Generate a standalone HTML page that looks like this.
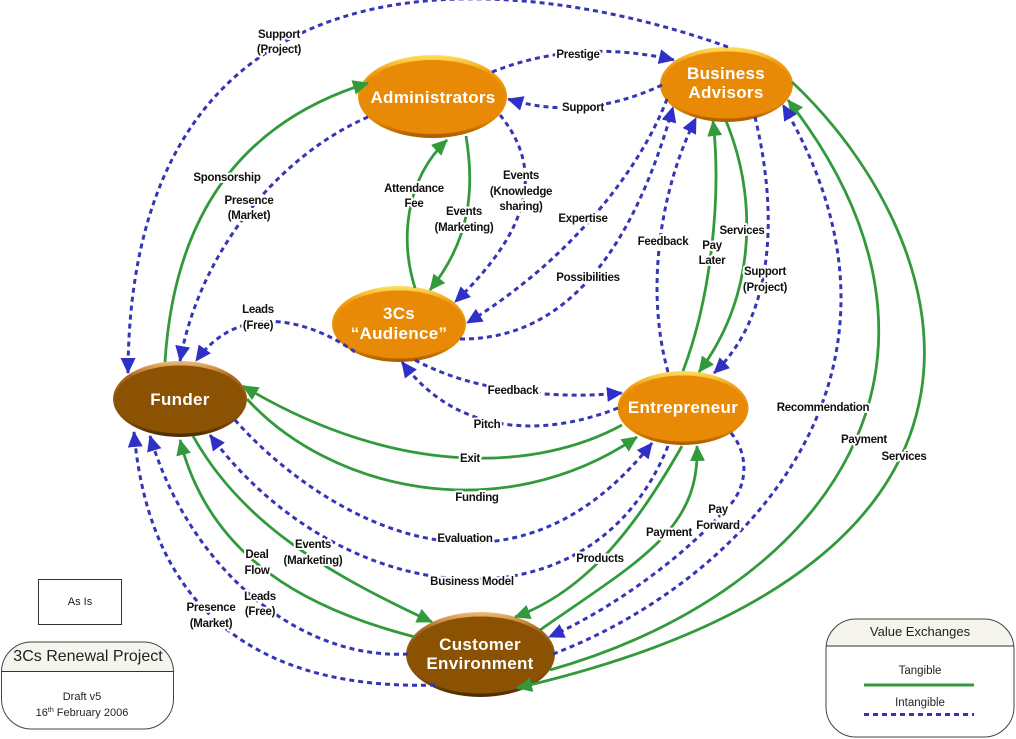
<!DOCTYPE html>
<html><head><meta charset="utf-8"><style>
html,body{margin:0;padding:0;background:#fff}
svg{display:block}
.g{fill:none;stroke:#339a3c;stroke-width:2.8}
.b{fill:none;stroke:#3535b5;stroke-width:3;stroke-dasharray:5 4}
.gm{marker-end:url(#ag)}
.bm{marker-end:url(#ab)}
.l text{font:bold 11.5px "Liberation Sans",sans-serif;letter-spacing:-.28px;fill:#111;text-anchor:middle;paint-order:stroke;stroke:#fff;stroke-width:4px;stroke-linejoin:round}
.n{font:bold 17px "Liberation Sans",sans-serif;fill:#fff;text-anchor:middle;letter-spacing:.3px}
.t{font-family:"Liberation Sans",sans-serif;fill:#222;text-anchor:middle}
</style></head><body>
<svg width="1016" height="739" viewBox="0 0 1016 739" xmlns="http://www.w3.org/2000/svg">
<defs>
<marker id="ag" markerUnits="userSpaceOnUse" markerWidth="20" markerHeight="18" refX="15" refY="7.5" orient="auto"><path d="M0,0L16,7.5L0,15Z" fill="#339a3c"/></marker>
<marker id="ab" markerUnits="userSpaceOnUse" markerWidth="20" markerHeight="18" refX="15" refY="7.5" orient="auto"><path d="M0,0L16,7.5L0,15Z" fill="#3030c8"/></marker>
<linearGradient id="og" x1="0" y1="0" x2="0" y2="1"><stop offset="0" stop-color="#ffe060"/><stop offset=".2" stop-color="#f0a010"/><stop offset=".8" stop-color="#e08600"/><stop offset="1" stop-color="#a85a00"/></linearGradient>
<linearGradient id="bg" x1="0" y1="0" x2="0" y2="1"><stop offset="0" stop-color="#f2bd78"/><stop offset=".2" stop-color="#a9661a"/><stop offset=".8" stop-color="#7e4a04"/><stop offset="1" stop-color="#4a2a00"/></linearGradient>
</defs>

<!-- nodes -->
<ellipse cx="432.5" cy="96.5" rx="74.5" ry="41.5" fill="url(#og)"/><ellipse cx="432.5" cy="97" rx="73" ry="37" fill="#e88a06"/>
<ellipse cx="726.5" cy="84.5" rx="66.5" ry="37.5" fill="url(#og)"/><ellipse cx="726.5" cy="85" rx="65" ry="33.5" fill="#e88a06"/>
<ellipse cx="399" cy="324" rx="67" ry="38" fill="url(#og)"/><ellipse cx="399" cy="324.5" rx="65.5" ry="34" fill="#e88a06"/>
<ellipse cx="683" cy="408" rx="65.5" ry="37" fill="url(#og)"/><ellipse cx="683" cy="408.5" rx="64" ry="33" fill="#e88a06"/>
<ellipse cx="180" cy="399" rx="67" ry="38" fill="url(#bg)"/><ellipse cx="180" cy="399.5" rx="65.5" ry="34" fill="#8a5202"/>
<ellipse cx="480.5" cy="654.5" rx="74.5" ry="42.5" fill="url(#bg)"/><ellipse cx="480.5" cy="655" rx="73" ry="38.5" fill="#8a5202"/>

<text class="n" x="433" y="103">Administrators</text>
<text class="n" x="726" y="79">Business</text><text class="n" x="726" y="98">Advisors</text>
<text class="n" x="399" y="319">3Cs</text><text class="n" x="399" y="339">“Audience”</text>
<text class="n" x="683" y="413">Entrepreneur</text>
<text class="n" x="180" y="405">Funder</text>
<text class="n" x="480" y="650">Customer</text><text class="n" x="480" y="669">Environment</text>

<!-- tangible -->
<path class="g gm" d="M165,362C172,250 215,130 368,83"/>
<path class="g gm" d="M466,136C475,190 470,240 430,290"/>
<path class="g gm" d="M415,288C400,240 405,180 447,140"/>
<path class="g gm" d="M683,371C710,300 722,200 713,121"/>
<path class="g gm" d="M726,121C755,190 760,290 699,372"/>
<path class="g gm" d="M550,670C830,590 990,360 788,100"/>
<path class="g gm" d="M792,82C950,230 1070,560 517,688"/>
<path class="g gm" d="M622,425C540,470 400,480 243,386"/>
<path class="g gm" d="M247,399C330,490 500,530 637,437"/>
<path class="g gm" d="M193,436C240,520 320,570 432,622"/>
<path class="g gm" d="M415,637C310,610 210,560 180,440"/>
<path class="g gm" d="M682,446C640,520 590,590 515,617"/>
<path class="g gm" d="M540,630C640,560 700,530 697,446"/>

<!-- intangible -->
<path class="b bm" d="M728,47C500,-35 130,-60 128,373"/>
<path class="b bm" d="M492,72Q578,38 674,60"/>
<path class="b bm" d="M662,85Q583,122 508,99"/>
<path class="b bm" d="M368,117C280,155 200,250 180,361"/>
<path class="b bm" d="M500,115C545,170 530,230 455,302"/>
<path class="b bm" d="M667,99C640,170 570,260 467,323"/>
<path class="b bm" d="M460,339C560,340 630,260 673,107"/>
<path class="b bm" d="M668,372C645,290 660,190 696,118"/>
<path class="b bm" d="M755,117C775,200 780,310 714,373"/>
<path class="b bm" d="M553,654C735,585 945,380 783,105"/>
<path class="b bm" d="M355,352C310,320 240,300 196,361"/>
<path class="b bm" d="M415,360C470,390 550,400 622,393"/>
<path class="b bm" d="M618,408C550,435 460,440 402,362"/>
<path class="b bm" d="M235,420C310,505 500,635 652,443"/>
<path class="b bm" d="M668,446C590,640 340,610 210,435"/>
<path class="b bm" d="M731,433C750,455 748,490 725,510C680,560 610,610 549,637"/>
<path class="b bm" d="M408,654C300,660 190,570 150,436"/>
<path class="b bm" d="M435,685C270,690 150,620 134,432"/>

<!-- labels -->
<g class="l">
<text x="279" y="38">Support</text><text x="279" y="53">(Project)</text>
<text x="578" y="58">Prestige</text>
<text x="583" y="111">Support</text>
<text x="227" y="181">Sponsorship</text>
<text x="249" y="204">Presence</text><text x="249" y="219">(Market)</text>
<text x="414" y="192">Attendance</text><text x="414" y="207">Fee</text>
<text x="464" y="215">Events</text><text x="464" y="231">(Marketing)</text>
<text x="521" y="179">Events</text><text x="521" y="195">(Knowledge</text><text x="521" y="210">sharing)</text>
<text x="583" y="222">Expertise</text>
<text x="588" y="281">Possibilities</text>
<text x="663" y="245">Feedback</text>
<text x="712" y="249">Pay</text><text x="712" y="264">Later</text>
<text x="742" y="234">Services</text>
<text x="765" y="275">Support</text><text x="765" y="291">(Project)</text>
<text x="258" y="313">Leads</text><text x="258" y="329">(Free)</text>
<text x="513" y="394">Feedback</text>
<text x="487" y="428">Pitch</text>
<text x="470" y="462">Exit</text>
<text x="477" y="501">Funding</text>
<text x="465" y="542">Evaluation</text>
<text x="472" y="585">Business Model</text>
<text x="823" y="411">Recommendation</text>
<text x="864" y="443">Payment</text>
<text x="904" y="460">Services</text>
<text x="600" y="562">Products</text>
<text x="669" y="536">Payment</text>
<text x="718" y="513">Pay</text><text x="718" y="529">Forward</text>
<text x="313" y="548">Events</text><text x="313" y="564">(Marketing)</text>
<text x="257" y="558">Deal</text><text x="257" y="574">Flow</text>
<text x="260" y="600">Leads</text><text x="260" y="615">(Free)</text>
<text x="211" y="611">Presence</text><text x="211" y="627">(Market)</text>
</g>

<!-- as is -->
<rect x="38.5" y="579.5" width="83" height="45" fill="#fff" stroke="#333"/>
<text class="t" x="80" y="605" font-size="11">As Is</text>

<!-- project box -->
<path d="M2,672V672A30,30 0 0 1 32,642H143A30,30 0 0 1 173,672Z" fill="#f5f5ee"/>
<rect x="1.5" y="642" width="172" height="87" rx="30" fill="none" stroke="#444"/>
<line x1="1.5" y1="671.5" x2="173.5" y2="671.5" stroke="#333"/>
<text class="t" x="88" y="661" font-size="16">3Cs Renewal Project</text>
<text class="t" x="82" y="700" font-size="11">Draft v5</text>
<text class="t" x="82" y="716" font-size="11">16<tspan font-size="7" dy="-4">th</tspan><tspan dy="4"> February 2006</tspan></text>

<!-- legend -->
<path d="M826,646A30,27 0 0 1 856,619H984A30,27 0 0 1 1014,646Z" fill="#f5f5ee"/>
<rect x="826" y="619" width="188" height="118" rx="30" fill="none" stroke="#444"/>
<line x1="826" y1="646" x2="1014" y2="646" stroke="#333"/>
<text class="t" x="920" y="636" font-size="13">Value Exchanges</text>
<text class="t" x="920" y="674" font-size="11.5">Tangible</text>
<line x1="864" y1="685" x2="974" y2="685" stroke="#339a3c" stroke-width="3"/>
<text class="t" x="920" y="706" font-size="11.5">Intangible</text>
<line x1="864" y1="714.5" x2="974" y2="714.5" stroke="#3535b5" stroke-width="3" stroke-dasharray="5 4"/>
</svg>
</body></html>
